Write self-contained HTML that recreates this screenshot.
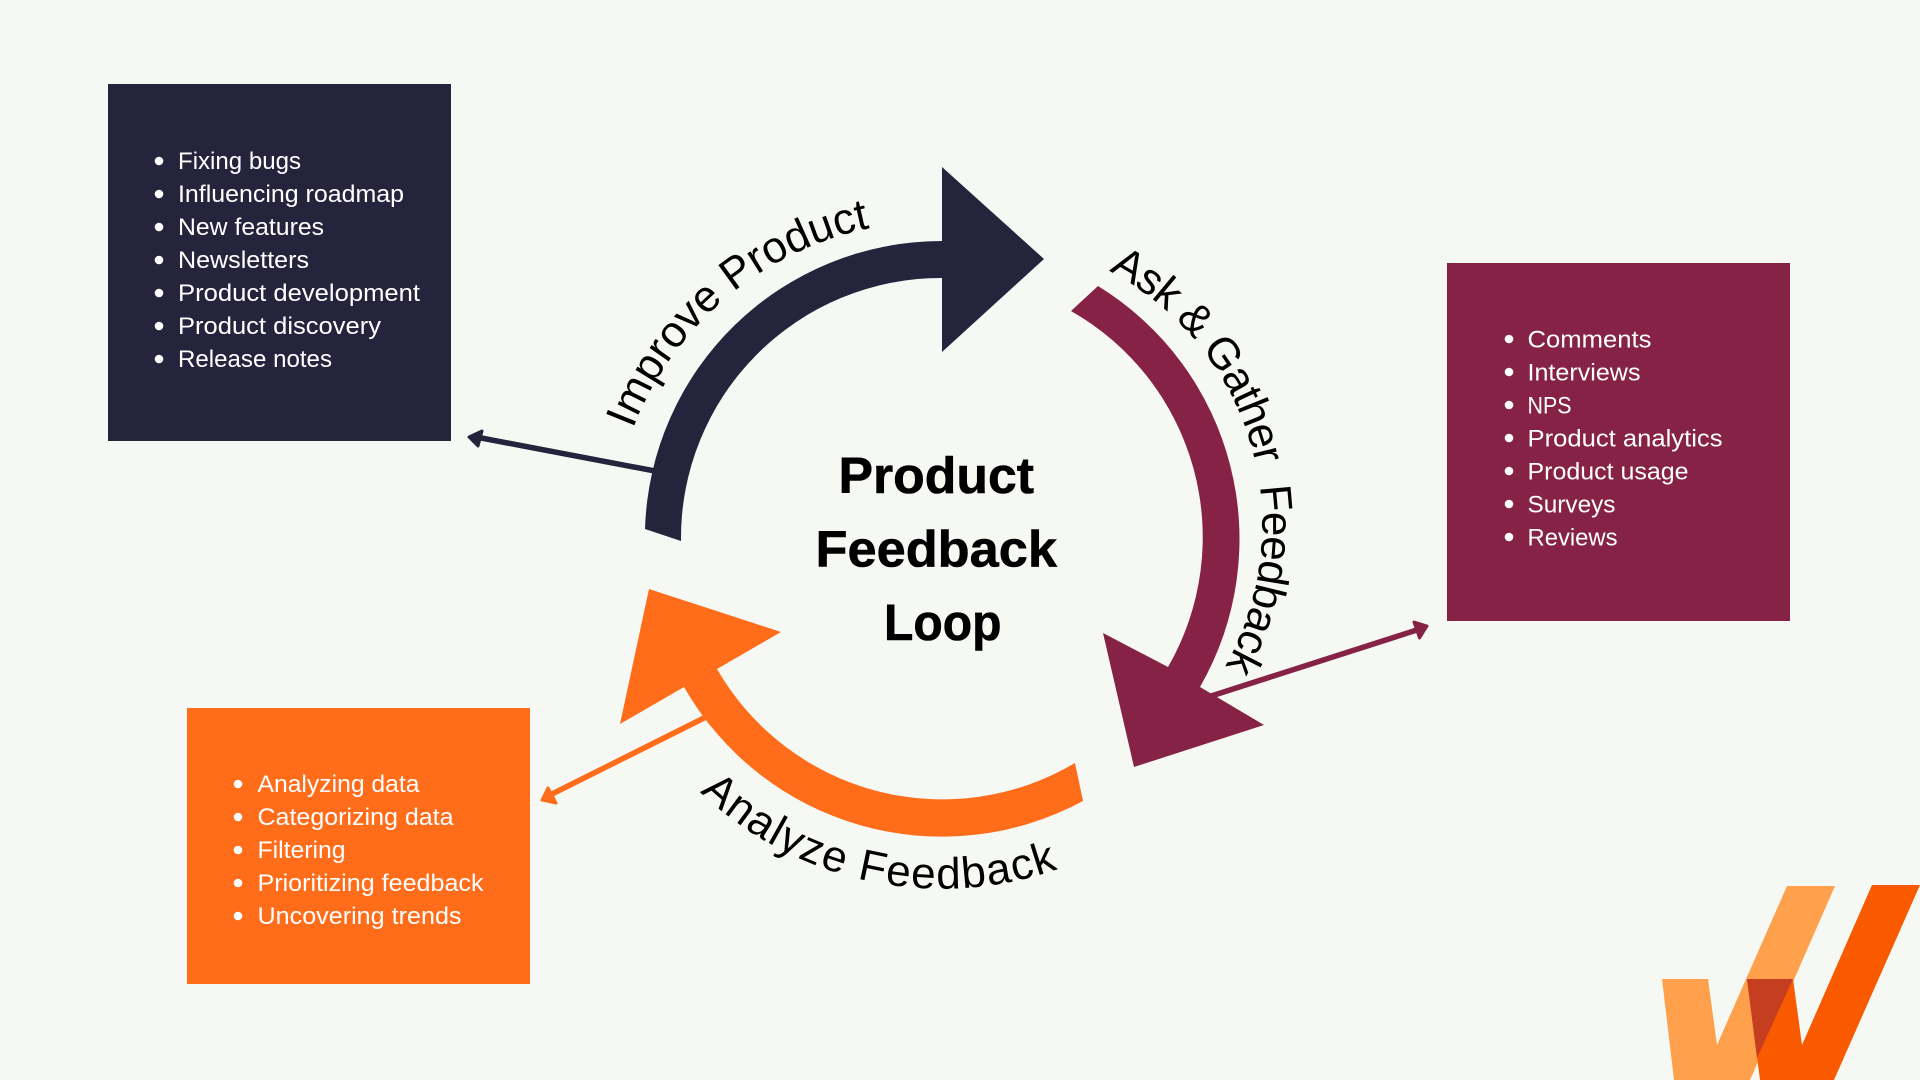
<!DOCTYPE html>
<html>
<head>
<meta charset="utf-8">
<style>
html,body{margin:0;padding:0;background:#f6f8f3;width:1920px;height:1080px;overflow:hidden}
svg{display:block}
text{font-family:"Liberation Sans",sans-serif}
.l{font-size:24.5px;fill:#fff}
.c{font-size:44px;fill:#000}
.t{font-size:51px;font-weight:700;fill:#000;stroke:#000;stroke-width:.6px}
</style>
</head>
<body>
<svg width="1920" height="1080" viewBox="0 0 1920 1080" xmlns="http://www.w3.org/2000/svg">
<rect width="1920" height="1080" fill="#f6f8f3"/>

<rect x="108" y="84" width="343" height="357" fill="#26233d"/>
<rect x="1447" y="263" width="343" height="358" fill="#862245"/>
<rect x="187" y="708" width="343" height="276" fill="#ff6d1a"/>

<!-- connectors -->
<line x1="655" y1="471" x2="476" y2="437" stroke="#26233d" stroke-width="5.5"/>
<polygon points="469,437 482,431 478,446" fill="#26233d" stroke="#26233d" stroke-width="3" stroke-linejoin="round"/>
<line x1="1205" y1="698" x2="1420" y2="629" stroke="#862245" stroke-width="5.5"/>
<polygon points="1427,626 1414,622 1419.5,638" fill="#862245" stroke="#862245" stroke-width="3" stroke-linejoin="round"/>
<line x1="708" y1="716" x2="548" y2="796" stroke="#ff6d1a" stroke-width="5.5"/>
<polygon points="542,800 548,788 556,803" fill="#ff6d1a" stroke="#ff6d1a" stroke-width="3" stroke-linejoin="round"/>

<!-- arcs -->
<path d="M645,529 A297,297 0 0 1 942,241 L942,167 L1044,259 L942,352 L942,278 A260,260 0 0 0 681,541 Z" fill="#26233d"/>
<path d="M1098,286 A297,297 0 0 1 1200,687 L1264,725 L1134,767 L1103,633 L1168,667 A260,260 0 0 0 1071,311 Z" fill="#862245"/>
<path d="M1083,801 A297,297 0 0 1 684,687 L620,724 L649,589 L781,632 L717,669 A260,260 0 0 0 1075,763 Z" fill="#ff6d1a"/>

<!-- curved labels -->
<defs>
<path id="p1" d="M633,429 A323.5,323.5 0 0 1 935,221.5"/>
<path id="p2" d="M1109,271 A287,287 0 0 1 1159.5,745"/>
<path id="p3" d="M700,792 A351,351 0 0 0 1167,807"/>
</defs>
<text class="c"><textPath href="#p1" textLength="324">Improve Product</textPath></text>
<text class="c"><textPath href="#p2" textLength="459">Ask &amp; Gather&#160;&#160;Feedback</textPath></text>
<text class="c"><textPath href="#p3" textLength="385">Analyze Feedback</textPath></text>

<!-- title -->
<text class="t" x="838.5" y="493" textLength="195.5" lengthAdjust="spacingAndGlyphs">Product</text>
<text class="t" x="815.5" y="566.5" textLength="241.5" lengthAdjust="spacingAndGlyphs">Feedback</text>
<text class="t" x="884" y="640" textLength="117.5" lengthAdjust="spacingAndGlyphs">Loop</text>

<!-- bullets -->
<g fill="#fff">
<circle cx="159" cy="161" r="4.3"/><circle cx="159" cy="194" r="4.3"/><circle cx="159" cy="227" r="4.3"/><circle cx="159" cy="260" r="4.3"/><circle cx="159" cy="293" r="4.3"/><circle cx="159" cy="326" r="4.3"/><circle cx="159" cy="359" r="4.3"/>
<circle cx="1509" cy="339" r="4.3"/><circle cx="1509" cy="372" r="4.3"/><circle cx="1509" cy="405" r="4.3"/><circle cx="1509" cy="438" r="4.3"/><circle cx="1509" cy="471" r="4.3"/><circle cx="1509" cy="504" r="4.3"/><circle cx="1509" cy="537" r="4.3"/>
<circle cx="238" cy="784" r="4.3"/><circle cx="238" cy="817" r="4.3"/><circle cx="238" cy="850" r="4.3"/><circle cx="238" cy="883" r="4.3"/><circle cx="238" cy="916" r="4.3"/>
</g>
<text class="l" x="178" y="169" textLength="123" lengthAdjust="spacingAndGlyphs">Fixing bugs</text>
<text class="l" x="178" y="202" textLength="226" lengthAdjust="spacingAndGlyphs">Influencing roadmap</text>
<text class="l" x="178" y="235" textLength="146" lengthAdjust="spacingAndGlyphs">New features</text>
<text class="l" x="178" y="268" textLength="131" lengthAdjust="spacingAndGlyphs">Newsletters</text>
<text class="l" x="178" y="301" textLength="242" lengthAdjust="spacingAndGlyphs">Product development</text>
<text class="l" x="178" y="334" textLength="203" lengthAdjust="spacingAndGlyphs">Product discovery</text>
<text class="l" x="178" y="367" textLength="154" lengthAdjust="spacingAndGlyphs">Release notes</text>

<text class="l" x="1527.5" y="347.5" textLength="124" lengthAdjust="spacingAndGlyphs">Comments</text>
<text class="l" x="1527.5" y="380.5" textLength="113" lengthAdjust="spacingAndGlyphs">Interviews</text>
<text class="l" x="1527.5" y="413.5" textLength="44" lengthAdjust="spacingAndGlyphs">NPS</text>
<text class="l" x="1527.5" y="446.5" textLength="195" lengthAdjust="spacingAndGlyphs">Product analytics</text>
<text class="l" x="1527.5" y="479.5" textLength="161" lengthAdjust="spacingAndGlyphs">Product usage</text>
<text class="l" x="1527.5" y="512.5" textLength="88" lengthAdjust="spacingAndGlyphs">Surveys</text>
<text class="l" x="1527.5" y="545.5" textLength="90" lengthAdjust="spacingAndGlyphs">Reviews</text>

<text class="l" x="257.5" y="792" textLength="162" lengthAdjust="spacingAndGlyphs">Analyzing data</text>
<text class="l" x="257.5" y="825" textLength="196" lengthAdjust="spacingAndGlyphs">Categorizing data</text>
<text class="l" x="257.5" y="858" textLength="88" lengthAdjust="spacingAndGlyphs">Filtering</text>
<text class="l" x="257.5" y="891" textLength="226" lengthAdjust="spacingAndGlyphs">Prioritizing feedback</text>
<text class="l" x="257.5" y="924" textLength="204" lengthAdjust="spacingAndGlyphs">Uncovering trends</text>

<!-- logo -->
<polygon points="1662,979 1708,979 1717,1045 1787,886 1835,886 1750,1080 1674,1080" fill="#ffa04d"/>
<polygon points="1872,885 1920,885 1834,1080 1760,1080 1747,979 1793,979 1802,1045" fill="#f95a00"/>
<polygon points="1747,979 1793,979 1757,1058" fill="#c53e1f"/>
</svg>
</body>
</html>
